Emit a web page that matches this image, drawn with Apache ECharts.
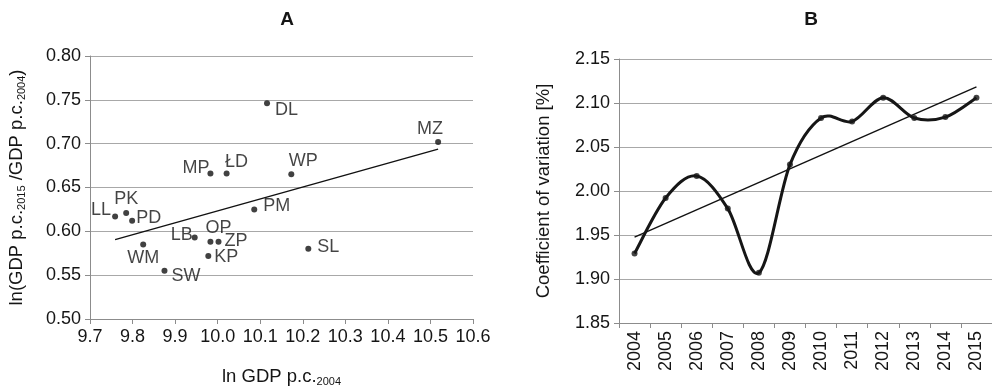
<!DOCTYPE html>
<html>
<head>
<meta charset="utf-8">
<script src="https://cdn.jsdelivr.net/npm/echarts@6/dist/echarts.min.js"></script>
<style>
  html, body { margin: 0; padding: 0; background: #fff; }
  #chart { width: 992px; height: 388px; }
</style>
</head>
<body>
<div id="chart"></div>
<script>
// Panel A: regional convergence (ln GDP p.c. 2004 vs growth 2004-2015)
const regions = ['DL', 'MZ', 'MP', 'ŁD', 'WP', 'PM', 'LL', 'PK', 'PD', 'LB', 'OP', 'ZP', 'WM', 'KP', 'SL', 'SW'];
const lnGdp2004 = [10.116, 10.518, 9.983, 10.021, 10.173, 10.086, 9.759, 9.785, 9.799, 9.946, 9.983, 10.002, 9.825, 9.978, 10.213, 9.875];
const lnGrowth = [0.746, 0.702, 0.666, 0.666, 0.665, 0.625, 0.617, 0.621, 0.612, 0.593, 0.588, 0.588, 0.585, 0.572, 0.580, 0.555];

// Panel B: coefficient of variation by year
const years = ['2004', '2005', '2006', '2007', '2008', '2009', '2010', '2011', '2012', '2013', '2014', '2015'];
const coefVar = [1.929, 1.992, 2.017, 1.980, 1.907, 2.030, 2.083, 2.079, 2.106, 2.083, 2.084, 2.106];

// Label placement per region code (position, [dx, dy])
const labelPlacement = {
  'DL': ['right', [2, 7]],
  'MZ': ['top', [-8, 2]],
  'MP': ['left', [5, -5]],
  'ŁD': ['top', [10, 4]],
  'WP': ['top', [12, 2]],
  'PM': ['right', [3, -3]],
  'LL': ['left', [2, -6]],
  'PK': ['top', [0, 1]],
  'PD': ['right', [-2, -3]],
  'LB': ['left', [4, -2]],
  'OP': ['top', [8, 1]],
  'ZP': ['right', [0, -1]],
  'WM': ['bottom', [0, -1]],
  'KP': ['right', [0, 1]],
  'SL': ['right', [3, -2]],
  'SW': ['right', [1, 5]]
};

function linearFit(xs, ys) {
  const n = xs.length;
  const mx = xs.reduce((a, b) => a + b, 0) / n;
  const my = ys.reduce((a, b) => a + b, 0) / n;
  let sxy = 0, sxx = 0;
  for (let i = 0; i < n; i++) {
    sxy += (xs[i] - mx) * (ys[i] - my);
    sxx += (xs[i] - mx) * (xs[i] - mx);
  }
  const slope = sxy / sxx;
  return x => my + slope * (x - mx);
}

const fitA = linearFit(lnGdp2004, lnGrowth);
const xMinA = Math.min(...lnGdp2004), xMaxA = Math.max(...lnGdp2004);
const yearIdx = years.map((_, i) => i);
const fitB = linearFit(yearIdx, coefVar);

const FONT = 'Liberation Sans, Arial, sans-serif';
const TXT = '#151515';
const AXIS = '#8c8c8c';
const GRIDLINE = '#a8a8a8';
const LBL = 18;
const NAME = 18.5;

const chart = echarts.init(document.getElementById('chart'), null, { renderer: 'canvas' });

const subRich = {
  m: { fontSize: NAME, fontFamily: FONT, color: TXT },
  s: { fontSize: 11, fontFamily: FONT, color: TXT, padding: [10, 0, 0, 0] }
};

chart.setOption({
  animation: false,
  textStyle: { fontFamily: FONT },
  title: [
    { text: 'A', left: 282, top: 5, textAlign: 'center', textStyle: { fontSize: 19, fontWeight: 'bold', color: TXT, fontFamily: FONT } },
    { text: 'B', left: 806, top: 5, textAlign: 'center', textStyle: { fontSize: 19, fontWeight: 'bold', color: TXT, fontFamily: FONT } }
  ],
  grid: [
    { left: 90, top: 56, width: 383, height: 263, containLabel: false, outerBoundsMode: 'none' },
    { left: 619, top: 59, width: 373, height: 264, containLabel: false, outerBoundsMode: 'none' }
  ],
  xAxis: [
    {
      gridIndex: 0, type: 'value', min: 9.7, max: 10.6, interval: 0.1,
      name: '{m|ln GDP p.c.}{s|2004}',
      nameLocation: 'middle', nameGap: 47,
      nameTextStyle: { rich: subRich },
      axisLine: { show: true, lineStyle: { color: AXIS } },
      axisTick: { show: true, length: 5, lineStyle: { color: AXIS } },
      splitLine: { show: false },
      axisLabel: { fontSize: LBL, color: TXT, margin: 9, formatter: v => v.toFixed(1) }
    },
    {
      gridIndex: 1, type: 'category', data: years, boundaryGap: true,
      axisLine: { show: true, lineStyle: { color: AXIS } },
      axisTick: { show: true, length: 5, lineStyle: { color: AXIS } },
      axisLabel: { fontSize: LBL, color: TXT, rotate: 90, margin: 8, interval: 0 }
    }
  ],
  yAxis: [
    {
      gridIndex: 0, type: 'value', min: 0.5, max: 0.8, interval: 0.05,
      name: '{m|ln(GDP p.c.}{s|2015}{m| /GDP p.c.}{s|2004}{m|)}',
      nameLocation: 'middle', nameGap: 63, nameRotate: 90,
      nameTextStyle: { rich: subRich },
      axisLine: { show: true, lineStyle: { color: AXIS } },
      axisTick: { show: true, length: 5, lineStyle: { color: AXIS } },
      splitLine: { show: true, lineStyle: { color: GRIDLINE, width: 1 } },
      axisLabel: { fontSize: LBL, color: TXT, margin: 9, formatter: v => v.toFixed(2) }
    },
    {
      gridIndex: 1, type: 'value', min: 1.85, max: 2.15, interval: 0.05,
      name: 'Coefficient of variation [%]',
      nameLocation: 'middle', nameGap: 66, nameRotate: 90,
      nameTextStyle: { fontSize: NAME, color: TXT, fontFamily: FONT },
      axisLine: { show: true, lineStyle: { color: AXIS } },
      axisTick: { show: true, length: 5, lineStyle: { color: AXIS } },
      splitLine: { show: true, lineStyle: { color: GRIDLINE, width: 1 } },
      axisLabel: { fontSize: LBL, color: TXT, margin: 9, formatter: v => v.toFixed(2) }
    }
  ],
  series: [
    {
      type: 'line', xAxisIndex: 0, yAxisIndex: 0, symbol: 'none', silent: true,
      lineStyle: { color: '#111', width: 1.4 },
      data: [[xMinA, fitA(xMinA)], [xMaxA, fitA(xMaxA)]],
      z: 2
    },
    {
      type: 'scatter', xAxisIndex: 0, yAxisIndex: 0, symbolSize: 6,
      itemStyle: { color: '#111' },
      data: regions.map((r, i) => ({
        value: [lnGdp2004[i], lnGrowth[i]],
        name: r,
        label: {
          show: true,
          formatter: r,
          position: labelPlacement[r][0],
          offset: labelPlacement[r][1],
          distance: 3,
          fontSize: LBL, color: TXT, fontFamily: FONT
        }
      })),
      z: 3
    },
    {
      type: 'line', xAxisIndex: 1, yAxisIndex: 1, symbol: 'none', silent: true,
      lineStyle: { color: '#111', width: 1.4 },
      data: yearIdx.map(i => (i === 0 || i === years.length - 1) ? fitB(i) : null),
      connectNulls: true,
      z: 2
    },
    {
      // Smoothed curve through the yearly values (Catmull-Rom as cubic Bezier)
      type: 'custom', xAxisIndex: 1, yAxisIndex: 1, silent: true,
      data: [0],
      renderItem: function (params, api) {
        const pts = coefVar.map((v, i) => api.coord([i, v]));
        let d = 'M' + pts[0][0] + ' ' + pts[0][1];
        for (let i = 0; i < pts.length - 1; i++) {
          const p0 = pts[Math.max(i - 1, 0)];
          const p1 = pts[i];
          const p2 = pts[i + 1];
          const p3 = pts[Math.min(i + 2, pts.length - 1)];
          const c1x = p1[0] + (p2[0] - p0[0]) / 6, c1y = p1[1] + (p2[1] - p0[1]) / 6;
          const c2x = p2[0] - (p3[0] - p1[0]) / 6, c2y = p2[1] - (p3[1] - p1[1]) / 6;
          d += ' C' + c1x + ' ' + c1y + ' ' + c2x + ' ' + c2y + ' ' + p2[0] + ' ' + p2[1];
        }
        return {
          type: 'path',
          shape: { pathData: d },
          style: { fill: 'none', stroke: '#161616', lineWidth: 3 }
        };
      },
      z: 3
    },
    {
      type: 'scatter', xAxisIndex: 1, yAxisIndex: 1, symbolSize: 6,
      itemStyle: { color: '#161616' },
      data: coefVar,
      z: 4
    }
  ]
});
</script>
</body>
</html>
